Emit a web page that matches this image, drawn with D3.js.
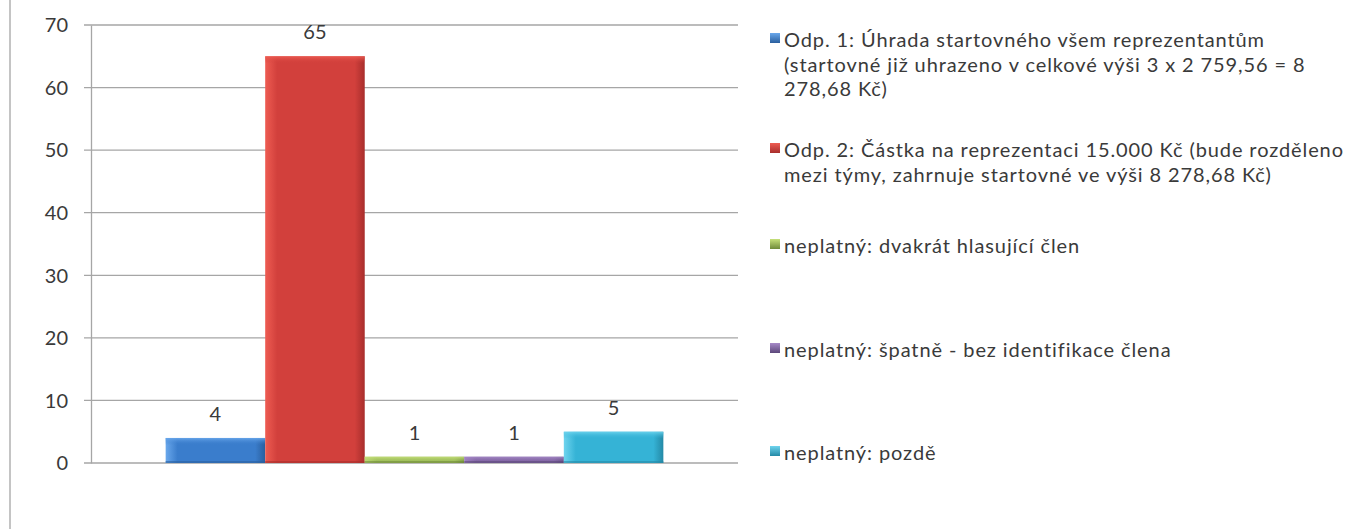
<!DOCTYPE html>
<html>
<head>
<meta charset="utf-8">
<script src="https://cdn.jsdelivr.net/npm/d3@7/dist/d3.min.js"></script>
<style>
  html, body { margin: 0; padding: 0; background: #ffffff; }
  svg { display: block; }
  text { font-family: Lato, "Open Sans", sans-serif; }
</style>
</head>
<body>
<svg id="chart" width="1365" height="529"></svg>
<script>
// ---- data ----
const seriesNames = [
  "Odp. 1: Úhrada startovného všem reprezentantům (startovné již uhrazeno v celkové výši 3 x 2 759,56 = 8 278,68 Kč)",
  "Odp. 2: Částka na reprezentaci 15.000 Kč (bude rozděleno mezi týmy, zahrnuje startovné ve výši 8 278,68 Kč)",
  "neplatný: dvakrát hlasující člen",
  "neplatný: špatně - bez identifikace člena",
  "neplatný: pozdě"
];
const legendLines = [
  ["Odp. 1: Úhrada startovného všem reprezentantům", "(startovné již uhrazeno v celkové výši 3 x 2 759,56 = 8", "278,68 Kč)"],
  ["Odp. 2: Částka na reprezentaci 15.000 Kč (bude rozděleno", "mezi týmy, zahrnuje startovné ve výši 8 278,68 Kč)"],
  ["neplatný: dvakrát hlasující člen"],
  ["neplatný: špatně - bez identifikace člena"],
  ["neplatný: pozdě"]
];
const values = [4, 65, 1, 1, 5];
const yTicks = [0, 10, 20, 30, 40, 50, 60, 70];
const category = ["Hlasování"];

// ---- styles ----
const colors = [
  {light: "#6aa8ec", base: "#3a7dcc", dark: "#2a5f9e"},
  {light: "#ee5c52", base: "#d2403c", dark: "#a82e2c"},
  {light: "#c6e07a", base: "#9bbb59", dark: "#6f8a3a"},
  {light: "#a78ac8", base: "#8064a2", dark: "#5c477a"},
  {light: "#6fd4ee", base: "#35b3d6", dark: "#2489a6"}
];

const svg = d3.select("#chart");
const defs = svg.append("defs");
colors.forEach((c, i) => {
  const g = defs.append("linearGradient").attr("id", "g" + i)
    .attr("x1", 0).attr("x2", 1).attr("y1", 0).attr("y2", 0);
  g.append("stop").attr("offset", "0%").attr("stop-color", c.light);
  g.append("stop").attr("offset", "12%").attr("stop-color", c.base);
  g.append("stop").attr("offset", "90%").attr("stop-color", c.base);
  g.append("stop").attr("offset", "100%").attr("stop-color", c.dark);
  const t = defs.append("linearGradient").attr("id", "t" + i)
    .attr("x1", 0).attr("x2", 0).attr("y1", 0).attr("y2", 1);
  t.append("stop").attr("offset", "0%").attr("stop-color", c.light);
  t.append("stop").attr("offset", "100%").attr("stop-color", c.base).attr("stop-opacity", 0);
  const l = defs.append("linearGradient").attr("id", "l" + i)
    .attr("x1", 0).attr("x2", 0).attr("y1", 0).attr("y2", 1);
  l.append("stop").attr("offset", "0%").attr("stop-color", c.light);
  l.append("stop").attr("offset", "100%").attr("stop-color", c.dark);
});

// frame line at left
svg.append("line").attr("x1", 10).attr("x2", 10).attr("y1", 0).attr("y2", 529)
  .attr("stroke", "#c4c4c4").attr("stroke-width", 2);

const plot = {left: 91, right: 738, top: 25, bottom: 463};

const y = d3.scaleLinear().domain([0, 70]).range([plot.bottom, plot.top]);
const x0 = d3.scaleBand().domain(category).range([plot.left, plot.right])
  .paddingInner(0).paddingOuter(0.15);
const x1 = d3.scaleBand().domain(d3.range(values.length)).range([0, x0.bandwidth()]).padding(0);

// gridlines
svg.append("g").selectAll("line").data(yTicks).join("line")
  .attr("x1", plot.left - 7).attr("x2", plot.right)
  .attr("y1", d => y(d)).attr("y2", d => y(d))
  .attr("stroke", "#a6a6a6").attr("stroke-width", 1.3);

// y axis
const yAxis = d3.axisLeft(y).tickValues(yTicks).tickSize(0).tickPadding(23);
const ya = svg.append("g").attr("transform", `translate(${plot.left},0)`).call(yAxis);
ya.select(".domain").attr("stroke", "#a6a6a6").attr("stroke-width", 1.3);
ya.selectAll("text").attr("font-size", 20).attr("fill", "#3a3a3a")
  .attr("font-family", "Lato, sans-serif").attr("dy", "0.34em");

// bars
const gx = x0(category[0]);
const bars = svg.append("g");
values.forEach((v, i) => {
  const bx = gx + x1(i), bw = x1.bandwidth();
  const by = y(v), bh = y(0) - y(v);
  bars.append("rect").attr("x", bx).attr("y", by).attr("width", bw).attr("height", bh)
    .attr("fill", `url(#g${i})`);
  bars.append("rect").attr("x", bx).attr("y", by).attr("width", bw).attr("height", Math.min(7, bh))
    .attr("fill", `url(#t${i})`).attr("opacity", 0.9);
  bars.append("rect").attr("x", bx).attr("y", y(0) - Math.min(2, bh)).attr("width", bw).attr("height", Math.min(2, bh))
    .attr("fill", colors[i].dark).attr("opacity", 0.6);
  bars.append("text").attr("x", bx + bw / 2).attr("y", by - 17)
    .attr("text-anchor", "middle").attr("font-size", 20).attr("fill", "#3a3a3a")
    .text(v);
});

// legend
const legendBase = [47, 157, 253, 357, 460];
const lineH = 24.5;
const leg = svg.append("g");
legendLines.forEach((lines, i) => {
  const b = legendBase[i];
  leg.append("rect").attr("x", 770).attr("y", b - 14).attr("width", 10).attr("height", 10)
    .attr("fill", `url(#l${i})`);
  const t = leg.append("text").attr("x", 784).attr("y", b)
    .attr("font-size", 20).attr("letter-spacing", "0.9px").attr("fill", "#3a3a3a");
  lines.forEach((ln, j) => {
    t.append("tspan").attr("x", 784).attr("y", b + j * lineH).text(ln);
  });
});
</script>
</body>
</html>
